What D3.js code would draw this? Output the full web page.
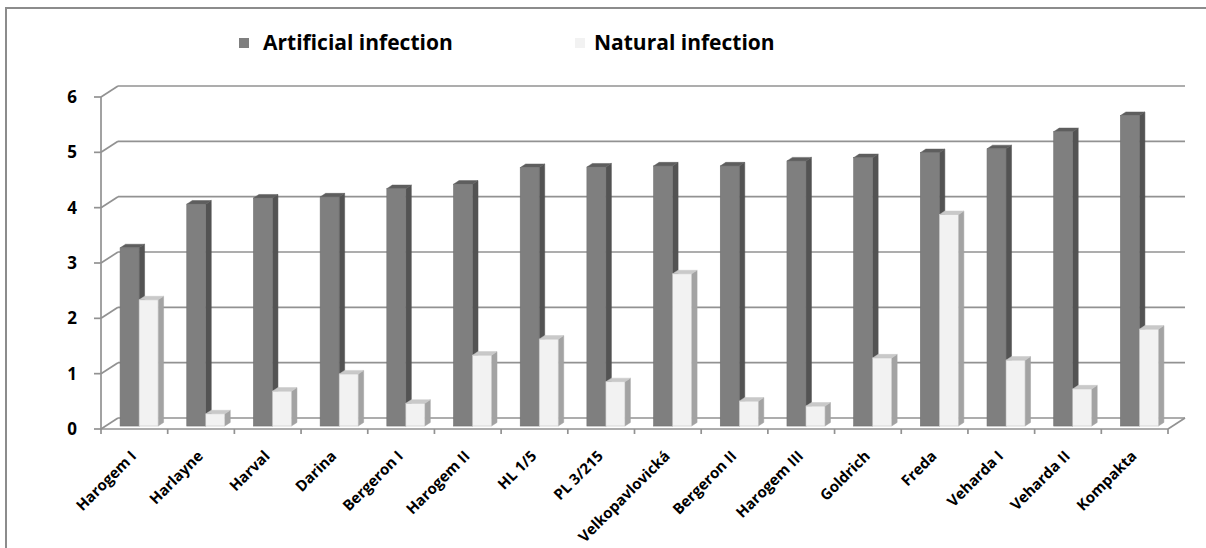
<!DOCTYPE html>
<html>
<head>
<meta charset="utf-8">
<script src="https://cdn.jsdelivr.net/npm/d3@7"></script>
<style>
  html, body { margin: 0; padding: 0; background: #fff; }
  svg { display: block; font-family: "Open Sans", "Liberation Sans", sans-serif; }
</style>
</head>
<body>
<svg id="chart" width="1206" height="548"></svg>
<script>
// Leaf infection scores for hop varieties
const categories = ["Harogem I", "Harlayne", "Harval", "Darina", "Bergeron I", "Harogem II",
  "HL 1/5", "PL 3/215", "Velkopavlovická", "Bergeron II", "Harogem III", "Goldrich",
  "Freda", "Veharda I", "Veharda II", "Kompakta"];
const artificial = [3.22, 4.01, 4.12, 4.14, 4.29, 4.37, 4.67, 4.68, 4.70, 4.70, 4.79, 4.85, 4.94, 5.01, 5.32, 5.61];
const natural    = [2.28, 0.22, 0.63, 0.94, 0.41, 1.28, 1.57, 0.80, 2.75, 0.45, 0.36, 1.23, 3.82, 1.19, 0.67, 1.75];
const seriesNames = ["Artificial infection", "Natural infection"];
const yTicks = [0, 1, 2, 3, 4, 5, 6];

const svg = d3.select("#chart");

// outer frame
svg.append("rect")
  .attr("x", 6).attr("y", 8).attr("width", 1230).attr("height", 580)
  .attr("fill", "none").attr("stroke", "#8c8c8c").attr("stroke-width", 2);

// front plane scales
const x = d3.scaleBand().domain(categories).range([101, 1168]);
const y = d3.scaleLinear().domain([0, 6]).range([429, 97]);
const sub = d3.scaleBand().domain(seriesNames).range([14.5, 52.5]);

// oblique depth of the plot box and of each bar
const depth = { dx: 17, dy: -11 };
const barDepth = { dx: 5.5, dy: -3.6 };
const barPos = 0.27; // bars sit this fraction into the floor depth

const gridColor = "#929292";
const grid = svg.append("g").attr("stroke", gridColor).attr("stroke-width", 1.7).attr("fill", "none");

// back wall gridlines + side wall diagonals
yTicks.forEach(t => {
  grid.append("line")
    .attr("x1", x.range()[0] + depth.dx).attr("x2", x.range()[1] + depth.dx)
    .attr("y1", y(t) + depth.dy).attr("y2", y(t) + depth.dy);
  grid.append("line")
    .attr("x1", x.range()[0]).attr("y1", y(t))
    .attr("x2", x.range()[0] + depth.dx).attr("y2", y(t) + depth.dy);
  grid.append("line")
    .attr("x1", x.range()[0] - 7).attr("x2", x.range()[0])
    .attr("y1", y(t)).attr("y2", y(t));
});

// floor: front edge, right edge
grid.append("line")
  .attr("x1", x.range()[0]).attr("x2", x.range()[1])
  .attr("y1", y(0)).attr("y2", y(0));
grid.append("line")
  .attr("x1", x.range()[1]).attr("y1", y(0))
  .attr("x2", x.range()[1] + depth.dx).attr("y2", y(0) + depth.dy);

// vertical value axis
grid.append("line")
  .attr("x1", x.range()[0]).attr("x2", x.range()[0])
  .attr("y1", y(6)).attr("y2", y(0) + 1);

// category ticks
const boundaries = categories.map(c => x(c)).concat([x.range()[1]]);
boundaries.forEach(bx => {
  grid.append("line")
    .attr("x1", bx).attr("x2", bx)
    .attr("y1", y(0)).attr("y2", y(0) + 5);
});

// value tick labels
svg.append("g").selectAll("text").data(yTicks).join("text")
  .attr("x", 77).attr("y", d => y(d))
  .attr("dy", "0.36em")
  .attr("text-anchor", "end")
  .attr("font-size", 17).attr("font-weight", "bold").attr("fill", "#000")
  .text(d => d);

// category labels
svg.append("g").selectAll("text").data(categories).join("text")
  .attr("transform", d => `translate(${x(d) + x.bandwidth() / 2 + 3},${y(0) + 28}) rotate(-45)`)
  .attr("text-anchor", "end")
  .attr("font-size", 15).attr("font-weight", "bold").attr("fill", "#000")
  .text(d => d);

// bars
const styles = {
  "Artificial infection": { front: "#7f7f7f", side: "#535353", top: "#5e5e5e", edge: "#727272" },
  "Natural infection":    { front: "#f2f2f2", side: "#a3a3a3", top: "#c9c9c9", edge: "#c4c4c4" }
};
const shiftX = depth.dx * barPos, shiftY = depth.dy * barPos;
const rows = [];
categories.forEach((c, i) => {
  rows.push({ cat: c, series: seriesNames[0], value: artificial[i] });
  rows.push({ cat: c, series: seriesNames[1], value: natural[i] });
});

const bars = svg.append("g");
rows.forEach(r => {
  const s = styles[r.series];
  const x0 = x(r.cat) + sub(r.series) + shiftX;
  const w = sub.bandwidth();
  const yb = y(0) + shiftY;
  const yt = y(r.value) + shiftY;
  const g = bars.append("g");
  // side face
  g.append("path")
    .attr("d", `M${x0 + w},${yb}L${x0 + w},${yt}L${x0 + w + barDepth.dx},${yt + barDepth.dy}L${x0 + w + barDepth.dx},${yb + barDepth.dy}Z`)
    .attr("fill", s.side).attr("stroke", s.side).attr("stroke-width", 0.5);
  // top face
  g.append("path")
    .attr("d", `M${x0},${yt}L${x0 + w},${yt}L${x0 + w + barDepth.dx},${yt + barDepth.dy}L${x0 + barDepth.dx},${yt + barDepth.dy}Z`)
    .attr("fill", s.top).attr("stroke", s.top).attr("stroke-width", 0.5);
  // front face
  g.append("rect")
    .attr("x", x0).attr("y", yt).attr("width", w).attr("height", yb - yt)
    .attr("fill", s.front).attr("stroke", s.edge).attr("stroke-width", 0.6);
});

// legend
const legendPos = [{ sx: 239, tx: 263 }, { sx: 575, tx: 594 }];
const legend = svg.append("g");
seriesNames.forEach((name, i) => {
  legend.append("rect")
    .attr("x", legendPos[i].sx).attr("y", 38).attr("width", 10).attr("height", 10)
    .attr("fill", styles[name].front);
  legend.append("text")
    .attr("x", legendPos[i].tx).attr("y", 50)
    .attr("font-size", 21).attr("font-weight", "bold").attr("fill", "#000")
    .text(name);
});
</script>
</body>
</html>
